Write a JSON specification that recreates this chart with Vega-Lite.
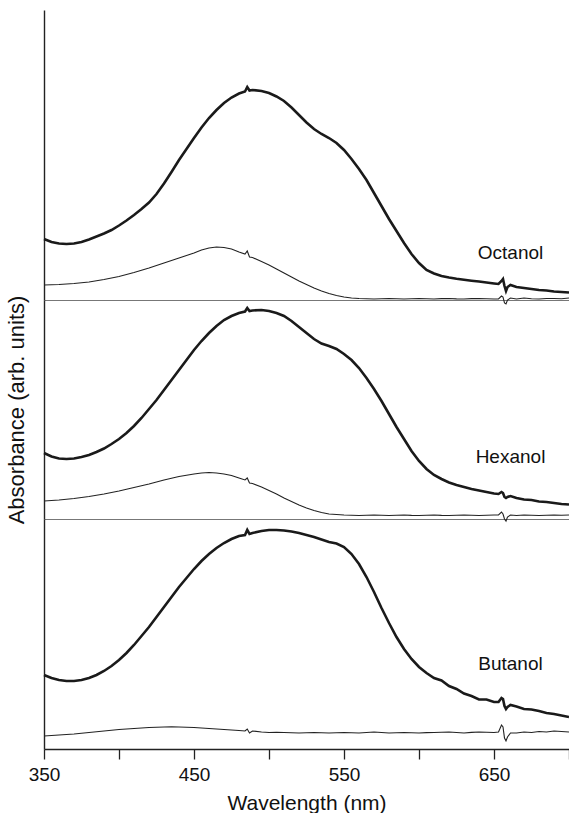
{
  "$schema": "https://vega.github.io/schema/vega-lite/v6.json",
  "padding": {"left": 5, "top": 10, "right": 0, "bottom": 0},
  "background": "white",
  "spacing": 0,
  "bounds": "flush",
  "config": {
    "view": {"stroke": null},
    "font": "Liberation Sans",
    "axis": {"grid": false, "labelFont": "Liberation Sans", "titleFont": "Liberation Sans", "titleFontWeight": "normal", "titleColor": "#111", "labelColor": "#111"}
  },
  "datasets": {
    "spectra": [
      {"w":350,"oA":61,"oB":15,"hA":66,"hB":18,"bA":74,"bB":13},
      {"w":355,"oA":58,"oB":15.2,"hA":62.5,"hB":18.5,"bA":71,"bB":13.5},
      {"w":360,"oA":56.5,"oB":15.5,"hA":60.5,"hB":19,"bA":69,"bB":14},
      {"w":365,"oA":56,"oB":16,"hA":60,"hB":19.7,"bA":68,"bB":14.5},
      {"w":370,"oA":56.5,"oB":16.5,"hA":60.5,"hB":20.5,"bA":68,"bB":15},
      {"w":375,"oA":58,"oB":17.2,"hA":62,"hB":21.5,"bA":69,"bB":15.8},
      {"w":380,"oA":60.5,"oB":18,"hA":64,"hB":22.5,"bA":71,"bB":16.5},
      {"w":385,"oA":63.5,"oB":19.2,"hA":67,"hB":23.7,"bA":74,"bB":17.2},
      {"w":390,"oA":66.5,"oB":20.5,"hA":70.5,"hB":25,"bA":78,"bB":18},
      {"w":395,"oA":70,"oB":22,"hA":75,"hB":26.5,"bA":83,"bB":18.8},
      {"w":400,"oA":74.5,"oB":23.5,"hA":80,"hB":28,"bA":89,"bB":19.5},
      {"w":405,"oA":79.5,"oB":25.5,"hA":86,"hB":29.7,"bA":96,"bB":20},
      {"w":410,"oA":85,"oB":27.5,"hA":93,"hB":31.5,"bA":104,"bB":20.5},
      {"w":415,"oA":91,"oB":29.7,"hA":101,"hB":33.2,"bA":113,"bB":21},
      {"w":420,"oA":97.5,"oB":32,"hA":110,"hB":35,"bA":122,"bB":21.5},
      {"w":425,"oA":106,"oB":34.5,"hA":119,"hB":37,"bA":132,"bB":21.8},
      {"w":430,"oA":116.5,"oB":37,"hA":129,"hB":39,"bA":142,"bB":22},
      {"w":435,"oA":128,"oB":39.5,"hA":139,"hB":40.8,"bA":152,"bB":22.1},
      {"w":440,"oA":140,"oB":42,"hA":149,"hB":42.5,"bA":162,"bB":22},
      {"w":445,"oA":151,"oB":44.5,"hA":159,"hB":43.8,"bA":171,"bB":21.8},
      {"w":450,"oA":162,"oB":47,"hA":169,"hB":45,"bA":180,"bB":21.5},
      {"w":455,"oA":172.5,"oB":50,"hA":178,"hB":46,"bA":188,"bB":21},
      {"w":460,"oA":182,"oB":52,"hA":186,"hB":46.5,"bA":195,"bB":20.5},
      {"w":465,"oA":190,"oB":53,"hA":193,"hB":46,"bA":201,"bB":20},
      {"w":470,"oA":197,"oB":52.5,"hA":199,"hB":45,"bA":206,"bB":19.5},
      {"w":475,"oA":202.5,"oB":51,"hA":203,"hB":43.5,"bA":210,"bB":19},
      {"w":480,"oA":206.5,"oB":48,"hA":206,"hB":41,"bA":213,"bB":18.5},
      {"w":484,"oA":208.5,"oB":46,"hA":207.5,"hB":39,"bA":214,"bB":18},
      {"w":485.5,"oA":213,"oB":49,"hA":211,"hB":41,"bA":219,"bB":20},
      {"w":487,"oA":209.5,"oB":43,"hA":208,"hB":36,"bA":215,"bB":16},
      {"w":489,"oA":210,"oB":42.5,"hA":208.5,"hB":35.5,"bA":216,"bB":18},
      {"w":495,"oA":209,"oB":38.5,"hA":209,"hB":32,"bA":218,"bB":17},
      {"w":500,"oA":207,"oB":35,"hA":208,"hB":28.5,"bA":219,"bB":16.5},
      {"w":505,"oA":203.5,"oB":31,"hA":206,"hB":25,"bA":219,"bB":16.6},
      {"w":510,"oA":199,"oB":27,"hA":203,"hB":21,"bA":218.5,"bB":16.5},
      {"w":515,"oA":192.5,"oB":23,"hA":198,"hB":17.5,"bA":217.5,"bB":16.2},
      {"w":520,"oA":185,"oB":19,"hA":192,"hB":14,"bA":216,"bB":16},
      {"w":525,"oA":177.5,"oB":15.5,"hA":186,"hB":11,"bA":214,"bB":16.3},
      {"w":530,"oA":171,"oB":12,"hA":180,"hB":8.5,"bA":212,"bB":16.5},
      {"w":535,"oA":166,"oB":9,"hA":175.5,"hB":6.5,"bA":209.5,"bB":16.2},
      {"w":540,"oA":162,"oB":6.5,"hA":173,"hB":5,"bA":207,"bB":16},
      {"w":545,"oA":157,"oB":4.5,"hA":170,"hB":4.5,"bA":205.5,"bB":16.3},
      {"w":550,"oA":150,"oB":3,"hA":165,"hB":4,"bA":202,"bB":16.5},
      {"w":555,"oA":141,"oB":2,"hA":159,"hB":3.8,"bA":195,"bB":16.2},
      {"w":560,"oA":131,"oB":1.5,"hA":151,"hB":3.5,"bA":185,"bB":16},
      {"w":565,"oA":120,"oB":1.2,"hA":141,"hB":3.8,"bA":172,"bB":16.5},
      {"w":570,"oA":107,"oB":1,"hA":130,"hB":4,"bA":157,"bB":17},
      {"w":575,"oA":94,"oB":1.3,"hA":118,"hB":3.7,"bA":141,"bB":16.5},
      {"w":580,"oA":81,"oB":1.5,"hA":105,"hB":3.5,"bA":126,"bB":16},
      {"w":585,"oA":69,"oB":1.2,"hA":92,"hB":3.8,"bA":112,"bB":16.3},
      {"w":590,"oA":57,"oB":1,"hA":80,"hB":4,"bA":100,"bB":16.5},
      {"w":595,"oA":46,"oB":1.3,"hA":68,"hB":3.6,"bA":90,"bB":16.2},
      {"w":600,"oA":37,"oB":1.5,"hA":58,"hB":3.5,"bA":82,"bB":16},
      {"w":605,"oA":30,"oB":1.2,"hA":50,"hB":3.8,"bA":76,"bB":16.4},
      {"w":610,"oA":26.5,"oB":1,"hA":44,"hB":4,"bA":71,"bB":16.5},
      {"w":615,"oA":24,"oB":1.4,"hA":40,"hB":3.6,"bA":68.5,"bB":16.8},
      {"w":620,"oA":22.5,"oB":1.5,"hA":36.5,"hB":3.5,"bA":63,"bB":17},
      {"w":625,"oA":21.2,"oB":1.1,"hA":34,"hB":3.8,"bA":60,"bB":16.5},
      {"w":630,"oA":20.2,"oB":1,"hA":32,"hB":4,"bA":55.5,"bB":16},
      {"w":635,"oA":19.3,"oB":1.4,"hA":30,"hB":3.7,"bA":53,"bB":16.6},
      {"w":640,"oA":18.5,"oB":1.5,"hA":28.5,"hB":3.5,"bA":49.5,"bB":17},
      {"w":645,"oA":17.5,"oB":1.2,"hA":27,"hB":3.8,"bA":49.5,"bB":16.8},
      {"w":650,"oA":16.5,"oB":1,"hA":25.5,"hB":4,"bA":47,"bB":16.5},
      {"w":653,"oA":16,"oB":1,"hA":25,"hB":4,"bA":47,"bB":17},
      {"w":655,"oA":19,"oB":4,"hA":27,"hB":7,"bA":51,"bB":24},
      {"w":656,"oA":21,"oB":3,"hA":26,"hB":5,"bA":50,"bB":22},
      {"w":657,"oA":14,"oB":-3,"hA":22,"hB":0,"bA":43,"bB":11},
      {"w":658,"oA":9,"oB":-4,"hA":21,"hB":-2,"bA":40,"bB":8},
      {"w":659,"oA":13,"oB":0,"hA":22,"hB":2,"bA":42,"bB":12},
      {"w":661,"oA":15,"oB":2,"hA":23,"hB":4,"bA":44,"bB":16},
      {"w":665,"oA":13,"oB":1,"hA":21,"hB":3.5,"bA":42.5,"bB":16},
      {"w":670,"oA":12,"oB":2,"hA":19.5,"hB":4,"bA":40,"bB":17},
      {"w":675,"oA":11,"oB":1.2,"hA":19,"hB":3.7,"bA":39.5,"bB":16.5},
      {"w":680,"oA":10,"oB":1,"hA":17.5,"hB":3.5,"bA":38,"bB":17.5},
      {"w":685,"oA":9.5,"oB":1.5,"hA":17,"hB":3.8,"bA":36,"bB":17},
      {"w":690,"oA":8.5,"oB":1.5,"hA":16,"hB":4,"bA":35,"bB":18},
      {"w":695,"oA":8,"oB":1.2,"hA":15,"hB":3.7,"bA":33.5,"bB":17.5},
      {"w":700,"oA":7.5,"oB":2,"hA":14.5,"hB":4,"bA":32,"bB":17}
    ],
    "solvents": [
      {"solvent": "Octanol", "w": 661, "a": 47},
      {"solvent": "Hexanol", "w": 661, "a": 62},
      {"solvent": "Butanol", "w": 661, "a": 85}
    ]
  },
  "vconcat": [
    {
      "width": 525,
      "height": 290,
      "layer": [
        {
          "data": {"name": "spectra"},
          "mark": {"type": "line", "color": "#1a1a1a", "strokeWidth": 2.6},
          "encoding": {
            "x": {"field": "w", "type": "quantitative", "scale": {"domain": [350, 700], "nice": false, "zero": false},
                  "axis": {"orient": "bottom", "domainColor": "#777", "domainWidth": 1.2, "ticks": false, "labels": false, "title": null}},
            "y": {"field": "oA", "type": "quantitative", "scale": {"domain": [0, 290], "nice": false},
                  "axis": {"domainColor": "#222", "domainWidth": 1.4, "ticks": false, "labels": false, "title": null}}
          }
        },
        {
          "data": {"name": "spectra"},
          "mark": {"type": "line", "color": "#222", "strokeWidth": 1.1},
          "encoding": {"x": {"field": "w", "type": "quantitative"}, "y": {"field": "oB", "type": "quantitative"}}
        },
        {
          "mark": {"type": "rule", "color": "#333", "strokeWidth": 1.6},
          "encoding": {"y": {"datum": 290}}
        },
        {
          "data": {"name": "solvents"},
          "transform": [{"filter": "datum.solvent === 'Octanol'"}],
          "mark": {"type": "text", "fontSize": 19, "color": "#111", "align": "center", "baseline": "middle"},
          "encoding": {"x": {"field": "w", "type": "quantitative"}, "y": {"field": "a", "type": "quantitative"}, "text": {"field": "solvent"}}
        }
      ]
    },
    {
      "width": 525,
      "height": 219,
      "layer": [
        {
          "data": {"name": "spectra"},
          "mark": {"type": "line", "color": "#1a1a1a", "strokeWidth": 2.6},
          "encoding": {
            "x": {"field": "w", "type": "quantitative", "scale": {"domain": [350, 700], "nice": false, "zero": false},
                  "axis": {"orient": "bottom", "domainColor": "#777", "domainWidth": 1.2, "ticks": false, "labels": false, "title": null}},
            "y": {"field": "hA", "type": "quantitative", "scale": {"domain": [0, 219], "nice": false},
                  "axis": {"domainColor": "#222", "domainWidth": 1.4, "ticks": false, "labels": false, "title": "Absorbance (arb. units)", "titleFontSize": 22, "titlePadding": 16}}
          }
        },
        {
          "data": {"name": "spectra"},
          "mark": {"type": "line", "color": "#222", "strokeWidth": 1.1},
          "encoding": {"x": {"field": "w", "type": "quantitative"}, "y": {"field": "hB", "type": "quantitative"}}
        },
        {
          "data": {"name": "solvents"},
          "transform": [{"filter": "datum.solvent === 'Hexanol'"}],
          "mark": {"type": "text", "fontSize": 19, "color": "#111", "align": "center", "baseline": "middle"},
          "encoding": {"x": {"field": "w", "type": "quantitative"}, "y": {"field": "a", "type": "quantitative"}, "text": {"field": "solvent"}}
        }
      ]
    },
    {
      "width": 525,
      "height": 230,
      "layer": [
        {
          "data": {"name": "spectra"},
          "mark": {"type": "line", "color": "#1a1a1a", "strokeWidth": 2.6},
          "encoding": {
            "x": {"field": "w", "type": "quantitative", "scale": {"domain": [350, 700], "nice": false, "zero": false},
                  "axis": {"orient": "bottom", "domainColor": "#222", "domainWidth": 1.4, "tickColor": "#222", "tickWidth": 1.3, "tickSize": 10,
                           "values": [350, 400, 450, 500, 550, 600, 650, 700],
                           "labelExpr": "datum.value % 100 === 50 ? datum.label : ''",
                           "labelFontSize": 19, "labelPadding": 6, "labelFlush": false, "labelOverlap": false,
                           "title": "Wavelength (nm)", "titleFontSize": 21, "titlePadding": 8}},
            "y": {"field": "bA", "type": "quantitative", "scale": {"domain": [0, 230], "nice": false},
                  "axis": {"domainColor": "#222", "domainWidth": 1.4, "ticks": false, "labels": false, "title": null}}
          }
        },
        {
          "data": {"name": "spectra"},
          "mark": {"type": "line", "color": "#222", "strokeWidth": 1.1},
          "encoding": {"x": {"field": "w", "type": "quantitative"}, "y": {"field": "bB", "type": "quantitative"}}
        },
        {
          "data": {"name": "solvents"},
          "transform": [{"filter": "datum.solvent === 'Butanol'"}],
          "mark": {"type": "text", "fontSize": 19, "color": "#111", "align": "center", "baseline": "middle"},
          "encoding": {"x": {"field": "w", "type": "quantitative"}, "y": {"field": "a", "type": "quantitative"}, "text": {"field": "solvent"}}
        }
      ]
    }
  ]
}
